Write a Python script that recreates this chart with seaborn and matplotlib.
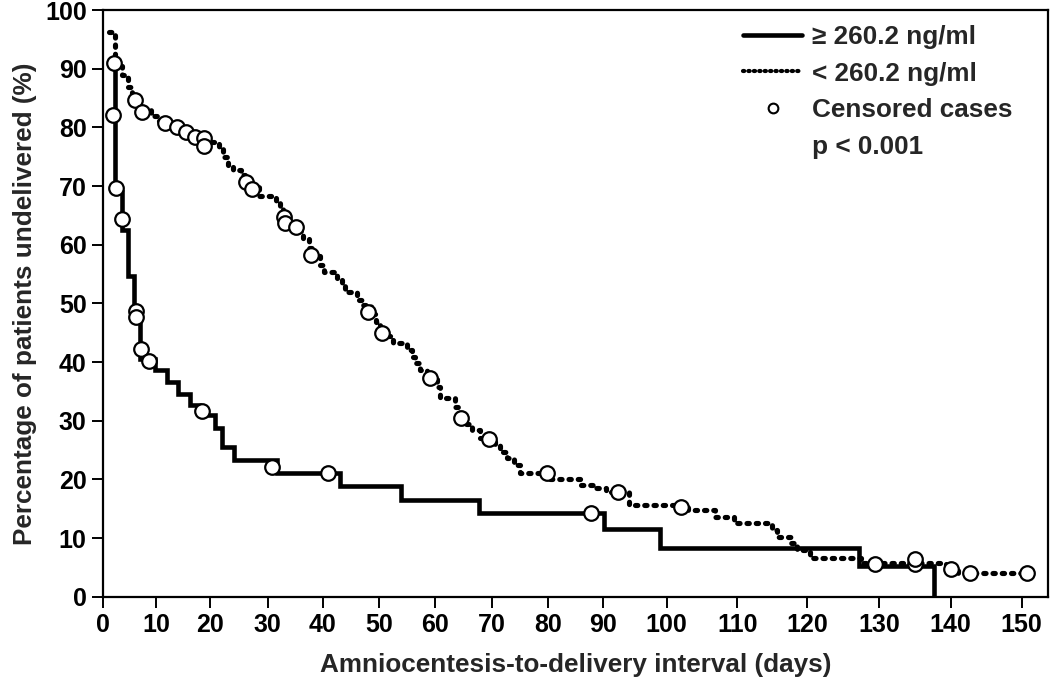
import numpy as np
import pandas as pd
import matplotlib
matplotlib.use("Agg")
import matplotlib.pyplot as plt
from matplotlib.lines import Line2D
import seaborn as sns

# ---------------- data ----------------
# High group (>= 260.2 ng/ml): step times (days) and survival (%) after each step
high_times = [2.1, 2.15, 3.5, 4.7, 5.8, 7.0, 9.8, 12.0, 14.1, 16.3, 18.0, 20.9, 22.0, 24.2,
              31.6, 43.0, 53.9, 67.8, 90.1, 99.0, 127.2, 137.6]
high_surv = [91.0, 69.0, 62.5, 54.6, 47.5, 40.5, 38.6, 36.6, 34.5, 32.7, 30.9, 28.7, 25.6, 23.3,
             21.0, 18.9, 16.4, 14.2, 11.5, 8.3, 5.2, 0.0]
high_cens_t = [2.1, 1.9, 2.5, 3.5, 6.2, 6.2, 7.1, 8.7, 18.6, 30.8, 40.9, 87.9, 129.4, 135.0]
high_cens_s = [90.9, 82.1, 69.6, 64.3, 48.7, 47.7, 42.3, 40.2, 31.7, 22.1, 21.0, 14.2, 5.5, 5.6]

# Low group (< 260.2 ng/ml)
low_times = [1.1, 2.3, 3.5, 4.7, 5.4, 7.0, 9.0, 10.5, 12.5, 14.5, 16.0, 18.0, 21.5, 22.2, 23.2,
             24.0, 25.4, 26.0, 27.0, 28.5, 31.5, 32.2, 32.8, 33.5, 35.8, 36.5, 37.5, 38.5, 39.5,
             40.3, 42.5, 43.5, 44.0, 46.0, 47.0, 48.5, 49.5, 50.2, 51.0, 52.5, 55.0, 55.8, 56.5,
             57.3, 58.5, 60.3, 60.8, 63.5, 64.2, 65.5, 66.5, 68.0, 70.5, 71.5, 72.8, 74.0, 75.0,
             80.5, 86.0, 88.5, 90.5, 94.1, 103.0, 106.9, 109.5, 115.0, 115.6, 117.6, 118.5,
             120.4, 127.5, 139.3, 141.0, 150.7]
low_surv = [96.3, 90.5, 89.0, 86.9, 85.0, 83.0, 82.0, 81.0, 80.2, 79.3, 78.4, 77.5, 76.7, 75.0,
            73.5, 72.7, 71.9, 70.9, 69.8, 68.3, 67.3, 66.2, 64.8, 63.6, 62.3, 61.0, 59.5, 58.0,
            56.5, 55.4, 54.3, 53.0, 52.0, 50.6, 49.8, 48.2, 46.8, 45.6, 44.5, 43.3, 42.0, 40.9,
            39.8, 38.6, 37.5, 35.8, 33.9, 32.4, 30.8, 29.5, 28.4, 27.0, 25.8, 24.6, 23.6, 22.4,
            21.0, 20.1, 19.0, 18.5, 17.9, 15.6, 14.8, 13.6, 12.5, 11.4, 10.2, 9.1, 8.0, 6.6,
            5.7, 4.9, 4.1, 4.1]
low_cens_t = [6.0, 7.3, 11.7, 13.8, 15.6, 17.2, 18.9, 18.9, 26.3, 27.2, 33.0, 33.1, 35.2, 37.8,
              48.1, 50.5, 59.1, 64.5, 69.5, 79.8, 92.4, 102.0, 135.0, 140.0, 142.7, 150.7]
low_cens_s = [84.7, 82.7, 80.7, 80.0, 79.2, 78.4, 78.1, 76.9, 70.7, 69.5, 64.8, 63.7, 63.0, 58.2,
              48.5, 45.0, 37.2, 30.4, 26.8, 21.0, 17.9, 15.3, 6.4, 4.8, 4.1, 4.1]

x_ticks = list(range(0, 151, 10))
y_ticks = list(range(0, 101, 10))
labels = ["\u2265 260.2 ng/ml", "< 260.2 ng/ml", "Censored cases", "p < 0.001"]
x_label = "Amniocentesis-to-delivery interval (days)"
y_label = "Percentage of patients undelivered (%)"

# ---------------- style ----------------
sns.set_style("ticks")
plt.rcParams["font.family"] = ["Liberation Sans", "DejaVu Sans"]
plt.rcParams["font.weight"] = "bold"

# The printed x axis in the original is not evenly spaced; reproduce its warp
warp_days = [-10] + x_ticks + [170]
warp_pos = [50.6, 103.3, 156.0, 210.0, 267.7, 322.7, 379.0, 435.0, 491.7, 547.7, 603.0,
            666.7, 737.3, 807.3, 879.0, 950.7, 1021.7, 1163.7]

def fwd(x):
    return np.interp(x, warp_days, warp_pos)

def inv(p):
    return np.interp(p, warp_pos, warp_days)

fig = plt.figure(figsize=(10.5, 6.81), dpi=100)
ax = fig.add_axes([0.0984, 0.1238, 0.8997, 0.8615])
ax.set_xscale("function", functions=(fwd, inv))

high_df = pd.DataFrame({"t": high_times, "s": high_surv})
low_df = pd.DataFrame({"t": low_times, "s": low_surv})

sns.lineplot(data=high_df, x="t", y="s", ax=ax, estimator=None, sort=False,
             drawstyle="steps-post", color="black", linewidth=3.3,
             solid_joinstyle="miter", zorder=3)
sns.lineplot(data=low_df, x="t", y="s", ax=ax, estimator=None, sort=False,
             drawstyle="steps-post", color="black", linewidth=3.7,
             linestyle=(0, (0.45, 1.35)), dash_capstyle="round", zorder=3)

cens_df = pd.DataFrame({"t": high_cens_t + low_cens_t, "s": high_cens_s + low_cens_s})
sns.scatterplot(data=cens_df, x="t", y="s", ax=ax, marker="o", s=110,
                facecolor="white", edgecolor="black", linewidth=1.6, zorder=4)

ax.set_xlim(0, 153.7)
ax.set_ylim(0, 100)
ax.set_xticks(x_ticks)
ax.set_xticklabels([str(v) for v in x_ticks])
ax.set_yticks(y_ticks)
ax.set_yticklabels([str(v) for v in y_ticks])
ax.minorticks_off()
ax.tick_params(axis="both", direction="out", length=8, width=1.4, labelsize=18,
               color="black", labelcolor="black", pad=4)
for sp in ax.spines.values():
    sp.set_linewidth(1.6)
    sp.set_color("black")

ax.set_xlabel(x_label, fontsize=18.8, fontweight="bold", labelpad=11)
ax.set_ylabel(y_label, fontsize=18.8, fontweight="bold", labelpad=6)

handles = [
    Line2D([], [], color="black", linewidth=3.3),
    Line2D([], [], color="black", linewidth=3.0, linestyle=(0, (0.3, 1.0)), dash_capstyle="round"),
    Line2D([], [], color="black", linestyle="none", marker="o", markersize=7,
           markerfacecolor="white", markeredgewidth=1.5),
    Line2D([], [], linestyle="none"),
]
ax.legend(handles, labels, loc="upper left", bbox_to_anchor=(743 / 1050, 1 - 25 / 681),
          bbox_transform=fig.transFigure, frameon=False, borderpad=0, borderaxespad=0,
          handlelength=2.27, handletextpad=0.38, labelspacing=0.48,
          prop={"family": "Liberation Sans", "weight": "bold", "size": 18.8})

fig.savefig("out.png", dpi=100)
